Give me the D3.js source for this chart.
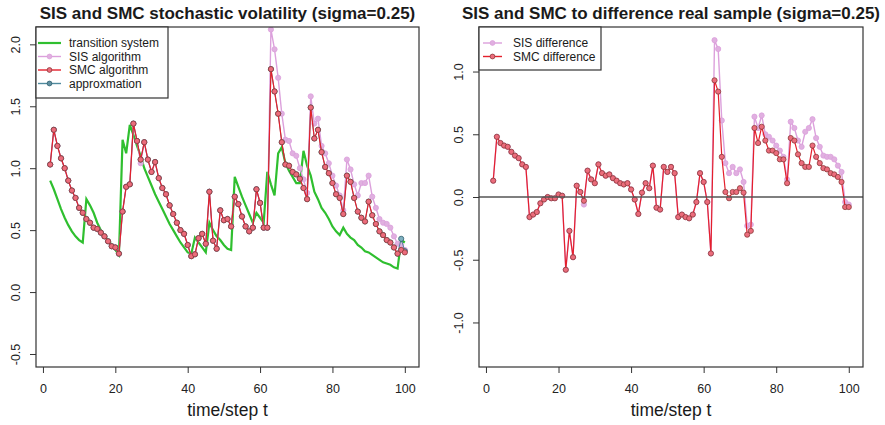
<!DOCTYPE html>
<html><head><meta charset="utf-8">
<script src="https://cdn.jsdelivr.net/npm/d3@7"></script>
<style>
body{margin:0;background:#fff}
text{font-family:"Liberation Sans",Arial,Helvetica,sans-serif}
</style>
</head><body>
<svg id="chart" width="885" height="425"></svg>
<script>
// time steps 2..100
const timeSteps = d3.range(2, 101);

const transitionSystem = [
 0.90,0.83,0.75,0.67,0.60,0.54,0.49,0.45,0.42,0.40,
 0.75,0.70,0.64,0.56,0.50,0.45,0.42,0.38,0.34,0.30,
 1.23,1.12,1.35,1.27,1.18,1.10,1.00,0.93,0.86,0.79,
 0.73,0.67,0.61,0.55,0.50,0.45,0.40,0.36,0.32,0.31,
 0.44,0.40,0.36,0.32,0.56,0.50,0.45,0.42,0.38,0.35,
 0.34,0.93,0.85,0.77,0.70,0.63,0.56,0.64,0.60,0.56,
 0.97,0.87,0.78,1.12,1.17,1.04,0.98,0.93,0.88,0.88,
 1.14,1.02,0.94,0.81,0.75,0.68,0.64,0.59,0.53,0.49,
 0.46,0.52,0.47,0.44,0.42,0.38,0.36,0.33,0.32,0.30,
 0.28,0.26,0.24,0.23,0.22,0.20,0.19,0.42,0.40];

const smcAlgorithm = [
 1.03,1.31,1.18,1.08,1.00,0.90,0.82,0.76,0.68,0.64,
 0.59,0.56,0.52,0.51,0.48,0.45,0.41,0.37,0.36,0.31,
 0.65,0.85,0.87,1.36,1.22,1.07,1.21,1.07,0.97,1.05,
 0.92,0.84,0.79,0.70,0.63,0.56,0.50,0.47,0.38,0.29,
 0.305,0.435,0.47,0.39,0.81,0.415,0.35,0.66,0.58,0.59,
 0.53,0.77,0.71,0.61,0.53,0.49,0.52,0.83,0.72,0.52,
 0.52,1.80,1.62,1.44,1.21,1.03,1.02,0.97,0.95,0.915,
 0.84,0.75,1.49,1.24,1.31,1.13,1.01,0.96,0.88,0.79,
 0.76,0.63,0.94,0.89,0.76,0.65,0.60,0.57,0.73,0.62,
 0.55,0.49,0.46,0.42,0.40,0.36,0.31,0.34,0.32];

const sisAlgorithm = [
 1.03,1.31,1.18,1.08,1.00,0.90,0.82,0.76,0.68,0.64,
 0.59,0.56,0.52,0.51,0.48,0.45,0.41,0.37,0.36,0.31,
 0.65,0.85,0.87,1.36,1.22,1.04,1.21,1.07,0.97,1.05,
 0.92,0.84,0.79,0.70,0.63,0.56,0.50,0.47,0.38,0.29,
 0.305,0.435,0.47,0.39,0.81,0.415,0.35,0.66,0.58,0.59,
 0.53,0.77,0.71,0.61,0.53,0.49,0.52,0.83,0.72,0.52,
 0.52,2.12,1.96,1.73,1.44,1.23,1.22,1.12,1.10,1.00,
 0.91,0.80,1.58,1.36,1.40,1.18,1.12,1.04,0.94,0.86,
 0.78,0.66,1.07,0.99,0.87,0.78,0.88,0.88,0.94,0.77,
 0.68,0.59,0.56,0.55,0.52,0.45,0.39,0.38,0.34];

const approxmation = [
 1.03,1.31,1.18,1.08,1.00,0.90,0.82,0.76,0.68,0.64,
 0.59,0.56,0.52,0.51,0.48,0.45,0.41,0.37,0.36,0.31,
 0.65,0.85,0.87,1.36,1.22,1.07,1.21,1.07,0.97,1.05,
 0.92,0.84,0.79,0.70,0.63,0.56,0.50,0.47,0.38,0.29,
 0.305,0.435,0.47,0.39,0.81,0.415,0.35,0.66,0.58,0.59,
 0.53,0.77,0.71,0.61,0.53,0.49,0.52,0.83,0.72,0.52,
 0.52,1.80,1.62,1.44,1.21,1.03,1.02,0.97,0.95,0.915,
 0.84,0.75,1.49,1.24,1.31,1.13,1.01,0.96,0.88,0.79,
 0.76,0.63,0.94,0.89,0.76,0.65,0.60,0.57,0.73,0.62,
 0.55,0.49,0.46,0.42,0.40,0.36,0.31,0.43,0.33];

const smcDifference = [
 0.13,0.48,0.43,0.41,0.40,0.36,0.33,0.31,0.26,0.24,
 -0.16,-0.14,-0.12,-0.05,-0.02,0.00,-0.01,-0.01,0.02,0.01,
 -0.58,-0.27,-0.48,0.09,0.04,-0.03,0.21,0.14,0.11,0.26,
 0.19,0.17,0.18,0.15,0.13,0.11,0.10,0.11,0.06,-0.02,
 -0.135,0.035,0.11,0.07,0.25,-0.085,-0.10,0.24,0.20,0.24,
 0.19,-0.16,-0.14,-0.16,-0.17,-0.14,-0.04,0.19,0.12,-0.04,
 -0.45,0.93,0.84,0.32,0.04,-0.01,0.04,0.04,0.07,0.035,
 -0.30,-0.27,0.55,0.43,0.56,0.45,0.37,0.37,0.35,0.30,
 0.30,0.11,0.47,0.45,0.34,0.27,0.24,0.24,0.41,0.32,
 0.27,0.23,0.22,0.19,0.18,0.16,0.12,-0.08,-0.08];

const sisDifference = [
 0.13,0.48,0.43,0.41,0.40,0.36,0.33,0.31,0.26,0.24,
 -0.16,-0.14,-0.12,-0.05,-0.02,0.00,-0.01,-0.01,0.02,0.01,
 -0.58,-0.27,-0.48,0.09,0.04,-0.06,0.21,0.14,0.11,0.26,
 0.19,0.17,0.18,0.15,0.13,0.11,0.10,0.11,0.06,-0.02,
 -0.135,0.035,0.11,0.07,0.25,-0.085,-0.10,0.24,0.20,0.24,
 0.19,-0.16,-0.14,-0.16,-0.17,-0.14,-0.04,0.19,0.12,-0.04,
 -0.45,1.25,1.18,0.61,0.27,0.19,0.24,0.19,0.22,0.12,
 -0.23,-0.22,0.64,0.55,0.65,0.50,0.48,0.45,0.41,0.37,
 0.32,0.14,0.60,0.55,0.45,0.40,0.52,0.55,0.62,0.47,
 0.40,0.33,0.32,0.32,0.30,0.25,0.20,-0.04,-0.06];

const xTickValues = [0, 20, 40, 60, 80, 100];
const leftYTickValues = [-0.5, 0, 0.5, 1, 1.5, 2];
const rightYTickValues = [-1, -0.5, 0, 0.5, 1];
const leftTitle = "SIS and SMC stochastic volatility (sigma=0.25)";
const rightTitle = "SIS and SMC to difference real sample (sigma=0.25)";
const xLabel = "time/step t";

const C = {
  green: "#2fbf2f", sis: "#dca0dc", sisPt: "#e0b0e0",
  smc: "#e4202c", smcFill: "#ec6c7c", smcEdge: "#8a3a3a",
  approx: "#4f8a9e", approxEdge: "#2f5f6f", axis: "#333"
};

const svg = d3.select("#chart");
svg.append("rect").attr("width",885).attr("height",425).attr("fill","#fff");

function panel(o) {
  const g = svg.append("g");
  const x = d3.scaleLinear().domain([-1.92, 103.92]).range([o.x0, o.x1]);
  const y = d3.scaleLinear().domain(o.yDomain).range([o.y1, o.y0]);
  const clipId = "clip" + o.id;
  svg.append("clipPath").attr("id", clipId).append("rect")
    .attr("x", o.x0).attr("y", o.y0).attr("width", o.x1 - o.x0).attr("height", o.y1 - o.y0);

  const xa = g.append("g").attr("transform", `translate(0,${o.y1})`)
    .call(d3.axisBottom(x).tickValues(xTickValues).tickSize(6).tickFormat(d3.format("d")));
  xa.select(".domain").remove();
  xa.selectAll("line").attr("stroke", C.axis);
  xa.selectAll("text").attr("y", 26).attr("dy", 0).attr("font-size", 12.5).attr("fill", "#222")
    .attr("font-family", '"Liberation Sans",Arial,sans-serif');

  const ya = g.append("g").attr("transform", `translate(${o.x0},0)`)
    .call(d3.axisLeft(y).tickValues(o.yTicks).tickSize(6).tickFormat(d3.format(".1f")));
  ya.select(".domain").remove();
  ya.selectAll("line").attr("stroke", C.axis);
  ya.selectAll("text").attr("x", 0).attr("dy", 0).attr("text-anchor", "middle")
    .attr("transform", "translate(-16,0) rotate(-90)")
    .attr("font-size", 12.5).attr("fill", "#222")
    .attr("font-family", '"Liberation Sans",Arial,sans-serif')
    .text(d => d3.format(".1f")(d).replace("−", "-"));

  g.append("text").attr("x", (o.x0 + o.x1) / 2).attr("y", 18.5).attr("text-anchor", "middle")
    .attr("font-size", 17).attr("font-weight", "bold").attr("fill", "#1a1a1a").text(o.title);
  g.append("text").attr("x", (o.x0 + o.x1) / 2).attr("y", 416).attr("text-anchor", "middle")
    .attr("font-size", 17.5).attr("fill", "#1a1a1a").text(xLabel);

  const data = g.append("g").attr("clip-path", `url(#${clipId})`);
  const line = vals => d3.line().x((d, i) => x(timeSteps[i])).y(d => y(d))(vals);

  o.draw(data, x, y, line);

  g.append("rect").attr("x", o.x0).attr("y", o.y0).attr("width", o.x1 - o.x0).attr("height", o.y1 - o.y0)
    .attr("fill", "none").attr("stroke", C.axis).attr("stroke-width", 1.2);
  return {g, x, y};
}

function points(sel, vals, x, y, fill, stroke, r) {
  sel.append("g").selectAll("circle").data(vals).join("circle")
    .attr("cx", (d, i) => x(timeSteps[i])).attr("cy", d => y(d)).attr("r", r)
    .attr("fill", fill).attr("stroke", stroke).attr("stroke-width", 0.8);
}

panel({
  id: "L", x0: 36, x1: 419, y0: 27, y1: 367, yDomain: [-0.605, 2.14], yTicks: leftYTickValues,
  title: leftTitle,
  draw: (sel, x, y, line) => {
    sel.append("path").attr("d", line(transitionSystem)).attr("fill", "none")
      .attr("stroke", C.green).attr("stroke-width", 2.2);
    sel.append("path").attr("d", line(sisAlgorithm)).attr("fill", "none")
      .attr("stroke", C.sis).attr("stroke-width", 1.4);
    points(sel, sisAlgorithm, x, y, C.sisPt, C.sis, 2.6);
    sel.append("path").attr("d", line(approxmation)).attr("fill", "none")
      .attr("stroke", C.approx).attr("stroke-width", 1);
    points(sel, approxmation, x, y, "#7fb0c0", C.approxEdge, 2.6);
    sel.append("path").attr("d", line(smcAlgorithm)).attr("fill", "none")
      .attr("stroke", C.smc).attr("stroke-width", 1.2);
    points(sel, smcAlgorithm, x, y, C.smcFill, C.smcEdge, 2.6);
  }
});

panel({
  id: "R", x0: 479, x1: 863, y0: 27, y1: 367, yDomain: [-1.355, 1.355], yTicks: rightYTickValues,
  title: rightTitle,
  draw: (sel, x, y, line) => {
    sel.append("path").attr("d", line(sisDifference)).attr("fill", "none")
      .attr("stroke", C.sis).attr("stroke-width", 1.4);
    points(sel, sisDifference, x, y, C.sisPt, C.sis, 2.6);
    sel.append("path").attr("d", line(smcDifference)).attr("fill", "none")
      .attr("stroke", C.smc).attr("stroke-width", 1.2);
    points(sel, smcDifference, x, y, C.smcFill, C.smcEdge, 2.6);
    sel.append("line").attr("x1", 479).attr("x2", 863).attr("y1", y(0)).attr("y2", y(0))
      .attr("stroke", "#555").attr("stroke-width", 1.5);
  }
});

function legend(x0, y0, w, h, items, lx1, lx2, tx) {
  const g = svg.append("g");
  g.append("rect").attr("x", x0).attr("y", y0).attr("width", w).attr("height", h)
    .attr("fill", "#fff").attr("stroke", C.axis).attr("stroke-width", 1.2);
  items.forEach((it, i) => {
    const yy = y0 + 16 + i * 13.5;
    g.append("line").attr("x1", lx1).attr("x2", lx2).attr("y1", yy).attr("y2", yy)
      .attr("stroke", it.color).attr("stroke-width", it.w || 1.4);
    if (it.pt) g.append("circle").attr("cx", (lx1 + lx2) / 2).attr("cy", yy).attr("r", 2.4)
      .attr("fill", it.pt).attr("stroke", it.edge).attr("stroke-width", 0.8);
    g.append("text").attr("x", tx).attr("y", yy + 4.3).attr("font-size", 12).attr("fill", "#1a1a1a").text(it.label);
  });
}
legend(36, 27, 132, 71, [
  {label: "transition system", color: C.green, w: 2.2},
  {label: "SIS algorithm", color: C.sis, pt: C.sisPt, edge: C.sis},
  {label: "SMC algorithm", color: C.smc, pt: C.smcFill, edge: C.smcEdge},
  {label: "approxmation", color: C.approx, pt: "#5f8fa0", edge: C.approxEdge}
], 38, 61, 69);
legend(479, 27, 122, 43, [
  {label: "SIS difference", color: C.sis, pt: C.sisPt, edge: C.sis},
  {label: "SMC difference", color: C.smc, pt: C.smcFill, edge: C.smcEdge}
], 483, 502, 513);
</script>
</body></html>
